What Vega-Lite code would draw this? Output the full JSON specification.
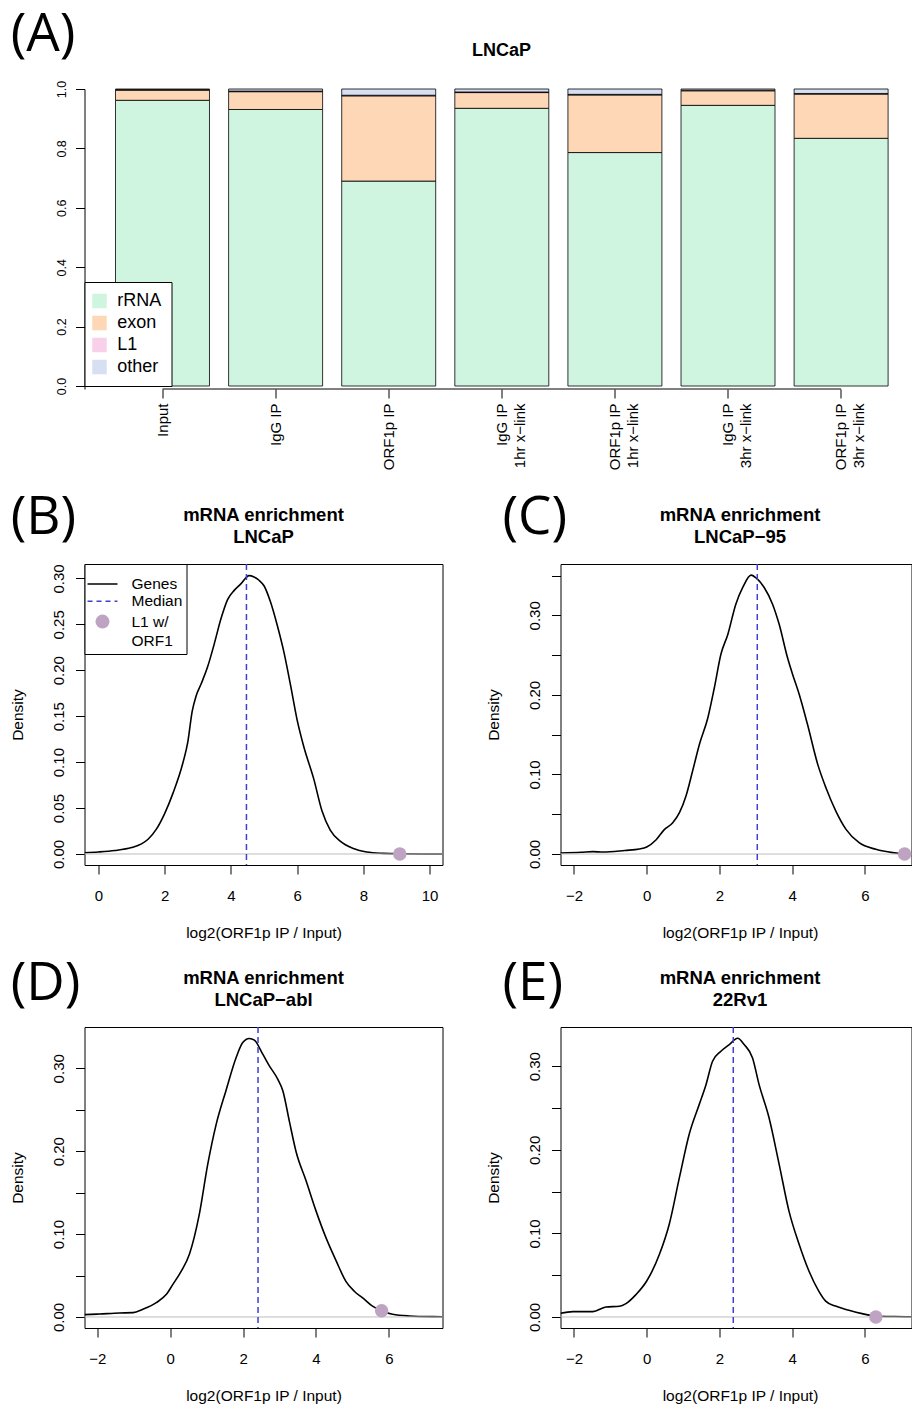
{
  "$schema": "https://vega.github.io/schema/vega-lite/v6.json",
  "background": "white",
  "padding": {"left": 9.5, "top": 9, "right": 0, "bottom": 0},
  "config": {
    "font": "Liberation Sans",
    "view": {"stroke": "black", "strokeWidth": 1},
    "axis": {"labelFont": "Liberation Sans", "titleFont": "Liberation Sans", "labelColor": "black", "titleColor": "black", "tickColor": "black", "domainColor": "black", "grid": false, "tickWidth": 1},
    "legend": {"labelFont": "Liberation Sans", "labelColor": "black", "titleFont": "Liberation Sans"},
    "title": {"font": "Liberation Sans", "color": "black"}
  },
  "datasets": {
    "bars": [
      {"c": "Input", "t": "rRNA", "k": 1, "v": 0.962}, {"c": "Input", "t": "exon", "k": 2, "v": 0.034}, {"c": "Input", "t": "L1", "k": 3, "v": 0.002}, {"c": "Input", "t": "other", "k": 4, "v": 0.002},
      {"c": "IgG IP", "t": "rRNA", "k": 1, "v": 0.931}, {"c": "IgG IP", "t": "exon", "k": 2, "v": 0.060}, {"c": "IgG IP", "t": "L1", "k": 3, "v": 0.002}, {"c": "IgG IP", "t": "other", "k": 4, "v": 0.007},
      {"c": "ORF1p IP", "t": "rRNA", "k": 1, "v": 0.690}, {"c": "ORF1p IP", "t": "exon", "k": 2, "v": 0.287}, {"c": "ORF1p IP", "t": "L1", "k": 3, "v": 0.002}, {"c": "ORF1p IP", "t": "other", "k": 4, "v": 0.021},
      {"c": "IgG IP|1hr x−link", "t": "rRNA", "k": 1, "v": 0.935}, {"c": "IgG IP|1hr x−link", "t": "exon", "k": 2, "v": 0.053}, {"c": "IgG IP|1hr x−link", "t": "L1", "k": 3, "v": 0.002}, {"c": "IgG IP|1hr x−link", "t": "other", "k": 4, "v": 0.010},
      {"c": "ORF1p IP|1hr x−link", "t": "rRNA", "k": 1, "v": 0.786}, {"c": "ORF1p IP|1hr x−link", "t": "exon", "k": 2, "v": 0.194}, {"c": "ORF1p IP|1hr x−link", "t": "L1", "k": 3, "v": 0.002}, {"c": "ORF1p IP|1hr x−link", "t": "other", "k": 4, "v": 0.018},
      {"c": "IgG IP|3hr x−link", "t": "rRNA", "k": 1, "v": 0.945}, {"c": "IgG IP|3hr x−link", "t": "exon", "k": 2, "v": 0.049}, {"c": "IgG IP|3hr x−link", "t": "L1", "k": 3, "v": 0.002}, {"c": "IgG IP|3hr x−link", "t": "other", "k": 4, "v": 0.004},
      {"c": "ORF1p IP|3hr x−link", "t": "rRNA", "k": 1, "v": 0.834}, {"c": "ORF1p IP|3hr x−link", "t": "exon", "k": 2, "v": 0.149}, {"c": "ORF1p IP|3hr x−link", "t": "L1", "k": 3, "v": 0.002}, {"c": "ORF1p IP|3hr x−link", "t": "other", "k": 4, "v": 0.015}
    ],
    "cB": [
      {"x": -0.42, "y": 0.0014}, {"x": 0, "y": 0.0022}, {"x": 0.5, "y": 0.0038}, {"x": 1.0, "y": 0.007}, {"x": 1.3, "y": 0.011}, {"x": 1.5, "y": 0.016}, {"x": 1.75, "y": 0.027}, {"x": 2.0, "y": 0.044}, {"x": 2.25, "y": 0.066}, {"x": 2.55, "y": 0.099}, {"x": 2.7, "y": 0.122}, {"x": 2.83, "y": 0.155}, {"x": 2.95, "y": 0.172}, {"x": 3.1, "y": 0.185}, {"x": 3.3, "y": 0.204}, {"x": 3.5, "y": 0.229}, {"x": 3.7, "y": 0.256}, {"x": 3.9, "y": 0.277}, {"x": 4.1, "y": 0.287}, {"x": 4.3, "y": 0.294}, {"x": 4.55, "y": 0.303}, {"x": 4.7, "y": 0.3015}, {"x": 4.85, "y": 0.298}, {"x": 5.0, "y": 0.292}, {"x": 5.2, "y": 0.274}, {"x": 5.4, "y": 0.249}, {"x": 5.6, "y": 0.220}, {"x": 5.8, "y": 0.184}, {"x": 6.0, "y": 0.146}, {"x": 6.2, "y": 0.117}, {"x": 6.5, "y": 0.082}, {"x": 6.75, "y": 0.047}, {"x": 7.0, "y": 0.026}, {"x": 7.3, "y": 0.014}, {"x": 7.7, "y": 0.006}, {"x": 8.1, "y": 0.0022}, {"x": 8.6, "y": 0.0007}, {"x": 9.1, "y": 0.0002}, {"x": 10.39, "y": 0}
    ],
    "cC": [
      {"x": -2.37, "y": 0.0013}, {"x": -1.8, "y": 0.0022}, {"x": -1.48, "y": 0.003}, {"x": -1.2, "y": 0.0025}, {"x": -0.6, "y": 0.0045}, {"x": -0.2, "y": 0.0063}, {"x": 0, "y": 0.0088}, {"x": 0.26, "y": 0.018}, {"x": 0.49, "y": 0.031}, {"x": 0.71, "y": 0.039}, {"x": 0.9, "y": 0.052}, {"x": 1.08, "y": 0.073}, {"x": 1.26, "y": 0.104}, {"x": 1.45, "y": 0.138}, {"x": 1.68, "y": 0.171}, {"x": 1.86, "y": 0.209}, {"x": 2.04, "y": 0.251}, {"x": 2.23, "y": 0.276}, {"x": 2.45, "y": 0.314}, {"x": 2.64, "y": 0.335}, {"x": 2.87, "y": 0.3505}, {"x": 3.03, "y": 0.346}, {"x": 3.23, "y": 0.335}, {"x": 3.46, "y": 0.314}, {"x": 3.64, "y": 0.289}, {"x": 3.87, "y": 0.247}, {"x": 4.01, "y": 0.226}, {"x": 4.19, "y": 0.201}, {"x": 4.42, "y": 0.163}, {"x": 4.7, "y": 0.113}, {"x": 4.93, "y": 0.083}, {"x": 5.2, "y": 0.054}, {"x": 5.48, "y": 0.031}, {"x": 5.84, "y": 0.0142}, {"x": 6.3, "y": 0.0059}, {"x": 6.76, "y": 0.0017}, {"x": 7.08, "y": 0.0003}, {"x": 7.28, "y": 0}
    ],
    "cD": [
      {"x": -2.35, "y": 0.0028}, {"x": -1.94, "y": 0.0036}, {"x": -1.39, "y": 0.0048}, {"x": -1.02, "y": 0.0052}, {"x": -0.75, "y": 0.0092}, {"x": -0.38, "y": 0.0173}, {"x": -0.11, "y": 0.027}, {"x": 0.07, "y": 0.039}, {"x": 0.3, "y": 0.055}, {"x": 0.53, "y": 0.076}, {"x": 0.8, "y": 0.124}, {"x": 1.03, "y": 0.184}, {"x": 1.26, "y": 0.232}, {"x": 1.53, "y": 0.273}, {"x": 1.81, "y": 0.313}, {"x": 1.99, "y": 0.331}, {"x": 2.17, "y": 0.336}, {"x": 2.31, "y": 0.334}, {"x": 2.54, "y": 0.317}, {"x": 2.72, "y": 0.303}, {"x": 2.95, "y": 0.287}, {"x": 3.09, "y": 0.273}, {"x": 3.27, "y": 0.236}, {"x": 3.45, "y": 0.2}, {"x": 3.73, "y": 0.164}, {"x": 4.0, "y": 0.128}, {"x": 4.27, "y": 0.096}, {"x": 4.55, "y": 0.068}, {"x": 4.82, "y": 0.043}, {"x": 5.05, "y": 0.031}, {"x": 5.28, "y": 0.023}, {"x": 5.55, "y": 0.013}, {"x": 5.8, "y": 0.0076}, {"x": 6.1, "y": 0.0032}, {"x": 6.56, "y": 0.0012}, {"x": 7.2, "y": 0.0004}, {"x": 7.47, "y": 0.0003}
    ],
    "cE": [
      {"x": -2.37, "y": 0.0044}, {"x": -2.03, "y": 0.0064}, {"x": -1.48, "y": 0.0064}, {"x": -1.12, "y": 0.012}, {"x": -0.75, "y": 0.0128}, {"x": -0.57, "y": 0.016}, {"x": -0.29, "y": 0.027}, {"x": 0, "y": 0.043}, {"x": 0.35, "y": 0.075}, {"x": 0.62, "y": 0.111}, {"x": 0.9, "y": 0.167}, {"x": 1.17, "y": 0.219}, {"x": 1.45, "y": 0.255}, {"x": 1.63, "y": 0.278}, {"x": 1.81, "y": 0.306}, {"x": 2.04, "y": 0.318}, {"x": 2.27, "y": 0.326}, {"x": 2.5, "y": 0.3335}, {"x": 2.68, "y": 0.326}, {"x": 2.91, "y": 0.31}, {"x": 3.09, "y": 0.278}, {"x": 3.36, "y": 0.239}, {"x": 3.64, "y": 0.183}, {"x": 3.91, "y": 0.127}, {"x": 4.19, "y": 0.087}, {"x": 4.46, "y": 0.055}, {"x": 4.73, "y": 0.031}, {"x": 4.92, "y": 0.019}, {"x": 5.19, "y": 0.013}, {"x": 5.56, "y": 0.008}, {"x": 5.92, "y": 0.004}, {"x": 6.28, "y": 0.0012}, {"x": 6.8, "y": 0.0005}, {"x": 7.28, "y": 0.0003}
    ]
  },
  "bounds": "flush",
  "spacing": 475,
  "resolve": {"scale": {"color": "independent"}},
  "vconcat": [
    {
      "title": {"text": "(A)", "anchor": "start", "frame": "group", "font": "Open Sans", "fontSize": 53, "fontWeight": "normal", "baseline": "bottom", "offset": 0, "dx": -73.8, "dy": 73.2},
      "bounds": "flush",
      "resolve": {"scale": {"color": "independent"}},
      "vconcat": [
        {
          "width": 827, "height": 300,
          "view": {"stroke": null},
          "title": {"text": "LNCaP", "fontSize": 18, "fontWeight": "bold", "baseline": "bottom", "offset": 2.3, "dx": 3.5},
          "layer": [
            {
              "data": {"name": "bars"},
              "mark": {"type": "bar", "stroke": "black", "strokeWidth": 0.8},
              "encoding": {
                "x": {"field": "c", "type": "nominal", "sort": null,
                  "scale": {"domain": ["Input", "IgG IP", "ORF1p IP", "IgG IP|1hr x−link", "ORF1p IP|1hr x−link", "IgG IP|3hr x−link", "ORF1p IP|3hr x−link"], "paddingInner": 0.169, "paddingOuter": 0.2405, "align": 0.57},
                  "axis": {"title": null, "domain": false, "tickSize": 9, "labelAngle": 270, "labelAlign": "right", "labelBaseline": "middle", "labelPadding": 5, "labelFontSize": 15, "labelLineHeight": 18, "labelExpr": "split(datum.label, '|')"}},
                "y": {"field": "v", "type": "quantitative", "stack": "zero",
                  "scale": {"domain": [-0.0101, 1.0], "nice": false, "zero": false},
                  "axis": {"title": null, "domain": true, "values": [0, 0.2, 0.4, 0.6, 0.8, 1.0], "format": ".1f", "tickSize": 9, "labelAngle": 270, "labelAlign": "center", "labelBaseline": "alphabetic", "labelPadding": 10, "labelFontSize": 12.5}},
                "color": {"field": "t", "type": "nominal",
                  "scale": {"domain": ["rRNA", "exon", "L1", "other"], "range": ["#CFF5E1", "#FED7B6", "#F9D0EA", "#D7DFF2"]},
                  "legend": {"title": null, "orient": "none", "legendX": 0, "legendY": 193, "strokeColor": "black", "fillColor": "white", "padding": 10, "symbolType": "square", "symbolSize": 210, "symbolStrokeWidth": 0, "symbolOffset": -4, "labelFontSize": 18, "labelOffset": 8.7, "rowPadding": 4}},
                "order": {"field": "k", "type": "quantitative"}
              }
            },
            {
              "data": {"values": [{"c": "Input", "c2": "ORF1p IP|3hr x−link", "v": -0.0101}]},
              "mark": {"type": "rule", "color": "black", "strokeWidth": 1},
              "encoding": {
                "x": {"field": "c", "type": "nominal"},
                "x2": {"field": "c2"},
                "y": {"field": "v", "type": "quantitative"}
              }
            }
          ]
        }
      ]
    },
    {
      "bounds": "flush",
      "spacing": 463,
      "resolve": {"scale": {"color": "independent"}},
      "vconcat": [
        {
          "bounds": "flush",
          "spacing": 476,
          "resolve": {"scale": {"color": "independent", "fill": "independent", "stroke": "independent", "shape": "independent", "strokeDash": "independent"}},
          "hconcat": [
            {
              "title": {"text": "(B)", "anchor": "start", "frame": "group", "font": "Open Sans", "fontSize": 53, "fontWeight": "normal", "baseline": "bottom", "offset": 0, "dx": -73.8, "dy": 91.8},
              "bounds": "flush",
              "resolve": {"scale": {"color": "independent", "fill": "independent", "stroke": "independent", "shape": "independent", "strokeDash": "independent"}},
              "vconcat": [
                {
                  "width": 358, "height": 301,
                  "title": {"text": ["mRNA enrichment", "LNCaP"], "fontSize": 18.5, "fontWeight": "bold", "lineHeight": 21.6, "baseline": "bottom", "offset": -2.3},
                  "layer": [
                    {
                      "data": {"name": "cB"},
                      "mark": {"type": "line", "color": "black", "strokeWidth": 1.6, "interpolate": "monotone", "clip": true},
                      "encoding": {
                        "x": {"field": "x", "type": "quantitative", "scale": {"domain": [-0.42, 10.39], "nice": false, "zero": false},
                          "axis": {"title": "log2(ORF1p IP / Input)", "values": [0, 2, 4, 6, 8, 10], "format": "d", "domain": false, "tickSize": 9, "labelFontSize": 15, "labelBaseline": "alphabetic", "labelPadding": 26, "labelFlush": false, "labelOverlap": false, "titleFontSize": 15.5, "titleFontWeight": "normal", "titleBaseline": "alphabetic", "titleY": 72}},
                        "y": {"field": "y", "type": "quantitative", "scale": {"domain": [-0.012, 0.3157], "nice": false, "zero": false},
                          "axis": {"title": "Density", "values": [0, 0.05, 0.1, 0.15, 0.2, 0.25, 0.3], "format": ".2f", "domain": false, "tickSize": 9, "labelFontSize": 15, "labelAngle": 270, "labelAlign": "center", "labelBaseline": "alphabetic", "labelPadding": 12, "labelOverlap": false, "labelFlush": false, "titleFontSize": 15.5, "titleFontWeight": "normal", "titleAngle": 270, "titleAlign": "center", "titleBaseline": "alphabetic", "titleX": -62.5}}
                      }
                    },
                    {
                      "data": {"values": [{"y": 0}]},
                      "mark": {"type": "rule", "color": "#BEBEBE", "strokeWidth": 1},
                      "encoding": {"y": {"field": "y", "type": "quantitative", "scale": {"domain": [-0.012, 0.3157], "nice": false, "zero": false}}}
                    },
                    {
                      "data": {"values": [{"x": 4.47}]},
                      "mark": {"type": "rule", "color": "#3F3FD0", "strokeWidth": 1.5, "strokeDash": [6, 4]},
                      "encoding": {"x": {"field": "x", "type": "quantitative", "scale": {"domain": [-0.42, 10.39], "nice": false, "zero": false}}}
                    },
                    {
                      "data": {"values": [{"x": 9.1, "y": 0, "s": "L1 w/"}]},
                      "mark": {"type": "point", "size": 182, "opacity": 1, "strokeWidth": 1.6},
                      "encoding": {
                        "x": {"field": "x", "type": "quantitative", "scale": {"domain": [-0.42, 10.39], "nice": false, "zero": false}},
                        "y": {"field": "y", "type": "quantitative", "scale": {"domain": [-0.012, 0.3157], "nice": false, "zero": false}},
                        "fill": {"field": "s", "type": "nominal",
                          "scale": {"domain": ["Genes", "Median", "L1 w/", "ORF1"], "range": ["transparent", "transparent", "#BFA3C3", "transparent"]},
                          "legend": {"title": " ", "titleFontSize": 6, "titlePadding": 2, "orient": "none", "legendX": 0, "legendY": 0, "strokeColor": "black", "fillColor": "white", "padding": 4, "symbolSize": 196, "symbolStrokeWidth": 1.6, "symbolOffset": 6, "labelOffset": 21, "labelFontSize": 15.5, "rowPadding": 0.3}},
                        "stroke": {"field": "s", "type": "nominal",
                          "scale": {"domain": ["Genes", "Median", "L1 w/", "ORF1"], "range": ["#000000", "#3F3FD0", "transparent", "transparent"]},
                          "legend": {"title": " ", "titleFontSize": 6, "titlePadding": 2, "orient": "none", "legendX": 0, "legendY": 0, "strokeColor": "black", "fillColor": "white", "padding": 4, "symbolSize": 196, "symbolStrokeWidth": 1.6, "symbolOffset": 6, "labelOffset": 21, "labelFontSize": 15.5, "rowPadding": 0.3}},
                        "shape": {"field": "s", "type": "nominal",
                          "scale": {"domain": ["Genes", "Median", "L1 w/", "ORF1"], "range": ["M-2.14,0H2.14", "M-2.14,0H2.14", "circle", "M-2.14,0H2.14"]},
                          "legend": {"title": " ", "titleFontSize": 6, "titlePadding": 2, "orient": "none", "legendX": 0, "legendY": 0, "strokeColor": "black", "fillColor": "white", "padding": 4, "symbolSize": 196, "symbolStrokeWidth": 1.6, "symbolOffset": 6, "labelOffset": 21, "labelFontSize": 15.5, "rowPadding": 0.3}},
                        "strokeDash": {"field": "s", "type": "nominal",
                          "scale": {"domain": ["Genes", "Median", "L1 w/", "ORF1"], "range": [[1, 0], [5, 4], [1, 0], [1, 0]]},
                          "legend": {"title": " ", "titleFontSize": 6, "titlePadding": 2, "orient": "none", "legendX": 0, "legendY": 0, "strokeColor": "black", "fillColor": "white", "padding": 4, "symbolSize": 196, "symbolStrokeWidth": 1.6, "symbolOffset": 6, "labelOffset": 21, "labelFontSize": 15.5, "rowPadding": 0.3}}
                      }
                    }
                  ]
                }
              ]
            },
            {
              "title": {"text": "(C)", "anchor": "start", "frame": "group", "font": "Open Sans", "fontSize": 53, "fontWeight": "normal", "baseline": "bottom", "offset": 0, "dx": -58.1, "dy": 91.8},
              "bounds": "flush",
              "resolve": {"scale": {"color": "independent"}},
              "vconcat": [
                {
                  "width": 351, "height": 301,
                  "title": {"text": ["mRNA enrichment", "LNCaP−95"], "fontSize": 18.5, "fontWeight": "bold", "lineHeight": 21.6, "baseline": "bottom", "offset": -2.3, "dx": 4},
                  "layer": [
                    {
                      "data": {"name": "cC"},
                      "mark": {"type": "line", "color": "black", "strokeWidth": 1.6, "interpolate": "monotone", "clip": true},
                      "encoding": {
                        "x": {"field": "x", "type": "quantitative", "scale": {"domain": [-2.37, 7.28], "nice": false, "zero": false},
                          "axis": {"title": "log2(ORF1p IP / Input)", "values": [-2, 0, 2, 4, 6], "format": "d", "domain": false, "tickSize": 9, "labelFontSize": 15, "labelBaseline": "alphabetic", "labelPadding": 26, "labelFlush": false, "labelOverlap": false, "titleFontSize": 15.5, "titleFontWeight": "normal", "titleBaseline": "alphabetic", "titleY": 72, "titleX": 179.5, "titleAlign": "center"}},
                        "y": {"field": "y", "type": "quantitative", "scale": {"domain": [-0.0138, 0.3645], "nice": false, "zero": false},
                          "axis": {"title": "Density", "values": [0, 0.05, 0.1, 0.15, 0.2, 0.25, 0.3, 0.35], "format": ".2f", "labelExpr": "round(datum.value * 100) % 10 == 0 ? datum.label : ''", "domain": false, "tickSize": 9, "labelFontSize": 15, "labelAngle": 270, "labelAlign": "center", "labelBaseline": "alphabetic", "labelPadding": 12, "labelOverlap": false, "labelFlush": false, "titleFontSize": 15.5, "titleFontWeight": "normal", "titleAngle": 270, "titleAlign": "center", "titleBaseline": "alphabetic", "titleX": -62.5}}
                      }
                    },
                    {
                      "data": {"values": [{"y": 0}]},
                      "mark": {"type": "rule", "color": "#BEBEBE", "strokeWidth": 1},
                      "encoding": {"y": {"field": "y", "type": "quantitative", "scale": {"domain": [-0.0138, 0.3645], "nice": false, "zero": false}}}
                    },
                    {
                      "data": {"values": [{"x": 3.04}]},
                      "mark": {"type": "rule", "color": "#3F3FD0", "strokeWidth": 1.5, "strokeDash": [6, 4]},
                      "encoding": {"x": {"field": "x", "type": "quantitative", "scale": {"domain": [-2.37, 7.28], "nice": false, "zero": false}}}
                    },
                    {
                      "data": {"values": [{"x": 7.09, "y": 0, "s": "L1 w/"}]},
                      "mark": {"type": "point", "filled": true, "size": 182, "opacity": 1},
                      "encoding": {
                        "x": {"field": "x", "type": "quantitative", "scale": {"domain": [-2.37, 7.28], "nice": false, "zero": false}},
                        "y": {"field": "y", "type": "quantitative", "scale": {"domain": [-0.0138, 0.3645], "nice": false, "zero": false}},
                        "color": {"field": "s", "type": "nominal", "scale": {"domain": ["L1 w/"], "range": ["#BFA3C3"]}, "legend": null}
                      }
                    }
                  ]
                }
              ]
            }
          ]
        },
        {
          "bounds": "flush",
          "spacing": 476,
          "resolve": {"scale": {"color": "independent"}},
          "hconcat": [
            {
              "title": {"text": "(D)", "anchor": "start", "frame": "group", "font": "Open Sans", "fontSize": 53, "fontWeight": "normal", "baseline": "bottom", "offset": 0, "dx": -73.8, "dy": 95.5},
              "bounds": "flush",
              "resolve": {"scale": {"color": "independent"}},
              "vconcat": [
                {
                  "width": 358, "height": 301,
                  "title": {"text": ["mRNA enrichment", "LNCaP−abl"], "fontSize": 18.5, "fontWeight": "bold", "lineHeight": 21.6, "baseline": "bottom", "offset": -2.3},
                  "layer": [
                    {
                      "data": {"name": "cD"},
                      "mark": {"type": "line", "color": "black", "strokeWidth": 1.6, "interpolate": "monotone", "clip": true},
                      "encoding": {
                        "x": {"field": "x", "type": "quantitative", "scale": {"domain": [-2.35, 7.47], "nice": false, "zero": false},
                          "axis": {"title": "log2(ORF1p IP / Input)", "values": [-2, 0, 2, 4, 6], "format": "d", "domain": false, "tickSize": 9, "labelFontSize": 15, "labelBaseline": "alphabetic", "labelPadding": 26, "labelFlush": false, "labelOverlap": false, "titleFontSize": 15.5, "titleFontWeight": "normal", "titleBaseline": "alphabetic", "titleY": 72}},
                        "y": {"field": "y", "type": "quantitative", "scale": {"domain": [-0.0133, 0.3498], "nice": false, "zero": false},
                          "axis": {"title": "Density", "values": [0, 0.05, 0.1, 0.15, 0.2, 0.25, 0.3], "format": ".2f", "labelExpr": "round(datum.value * 100) % 10 == 0 ? datum.label : ''", "domain": false, "tickSize": 9, "labelFontSize": 15, "labelAngle": 270, "labelAlign": "center", "labelBaseline": "alphabetic", "labelPadding": 12, "labelOverlap": false, "labelFlush": false, "titleFontSize": 15.5, "titleFontWeight": "normal", "titleAngle": 270, "titleAlign": "center", "titleBaseline": "alphabetic", "titleX": -62.5}}
                      }
                    },
                    {
                      "data": {"values": [{"y": 0}]},
                      "mark": {"type": "rule", "color": "#BEBEBE", "strokeWidth": 1},
                      "encoding": {"y": {"field": "y", "type": "quantitative", "scale": {"domain": [-0.0133, 0.3498], "nice": false, "zero": false}}}
                    },
                    {
                      "data": {"values": [{"x": 2.41}]},
                      "mark": {"type": "rule", "color": "#3F3FD0", "strokeWidth": 1.5, "strokeDash": [6, 4]},
                      "encoding": {"x": {"field": "x", "type": "quantitative", "scale": {"domain": [-2.35, 7.47], "nice": false, "zero": false}}}
                    },
                    {
                      "data": {"values": [{"x": 5.8, "y": 0.0076, "s": "L1 w/"}]},
                      "mark": {"type": "point", "filled": true, "size": 182, "opacity": 1},
                      "encoding": {
                        "x": {"field": "x", "type": "quantitative", "scale": {"domain": [-2.35, 7.47], "nice": false, "zero": false}},
                        "y": {"field": "y", "type": "quantitative", "scale": {"domain": [-0.0133, 0.3498], "nice": false, "zero": false}},
                        "color": {"field": "s", "type": "nominal", "scale": {"domain": ["L1 w/"], "range": ["#BFA3C3"]}, "legend": null}
                      }
                    }
                  ]
                }
              ]
            },
            {
              "title": {"text": "(E)", "anchor": "start", "frame": "group", "font": "Open Sans", "fontSize": 53, "fontWeight": "normal", "baseline": "bottom", "offset": 0, "dx": -58.1, "dy": 95.5},
              "bounds": "flush",
              "resolve": {"scale": {"color": "independent"}},
              "vconcat": [
                {
                  "width": 351, "height": 301,
                  "title": {"text": ["mRNA enrichment", "22Rv1"], "fontSize": 18.5, "fontWeight": "bold", "lineHeight": 21.6, "baseline": "bottom", "offset": -2.3, "dx": 4},
                  "layer": [
                    {
                      "data": {"name": "cE"},
                      "mark": {"type": "line", "color": "black", "strokeWidth": 1.6, "interpolate": "monotone", "clip": true},
                      "encoding": {
                        "x": {"field": "x", "type": "quantitative", "scale": {"domain": [-2.37, 7.28], "nice": false, "zero": false},
                          "axis": {"title": "log2(ORF1p IP / Input)", "values": [-2, 0, 2, 4, 6], "format": "d", "domain": false, "tickSize": 9, "labelFontSize": 15, "labelBaseline": "alphabetic", "labelPadding": 26, "labelFlush": false, "labelOverlap": false, "titleFontSize": 15.5, "titleFontWeight": "normal", "titleBaseline": "alphabetic", "titleY": 72, "titleX": 179.5, "titleAlign": "center"}},
                        "y": {"field": "y", "type": "quantitative", "scale": {"domain": [-0.0132, 0.347], "nice": false, "zero": false},
                          "axis": {"title": "Density", "values": [0, 0.05, 0.1, 0.15, 0.2, 0.25, 0.3], "format": ".2f", "labelExpr": "round(datum.value * 100) % 10 == 0 ? datum.label : ''", "domain": false, "tickSize": 9, "labelFontSize": 15, "labelAngle": 270, "labelAlign": "center", "labelBaseline": "alphabetic", "labelPadding": 12, "labelOverlap": false, "labelFlush": false, "titleFontSize": 15.5, "titleFontWeight": "normal", "titleAngle": 270, "titleAlign": "center", "titleBaseline": "alphabetic", "titleX": -62.5}}
                      }
                    },
                    {
                      "data": {"values": [{"y": 0}]},
                      "mark": {"type": "rule", "color": "#BEBEBE", "strokeWidth": 1},
                      "encoding": {"y": {"field": "y", "type": "quantitative", "scale": {"domain": [-0.0132, 0.347], "nice": false, "zero": false}}}
                    },
                    {
                      "data": {"values": [{"x": 2.38}]},
                      "mark": {"type": "rule", "color": "#3F3FD0", "strokeWidth": 1.5, "strokeDash": [6, 4]},
                      "encoding": {"x": {"field": "x", "type": "quantitative", "scale": {"domain": [-2.37, 7.28], "nice": false, "zero": false}}}
                    },
                    {
                      "data": {"values": [{"x": 6.3, "y": 0, "s": "L1 w/"}]},
                      "mark": {"type": "point", "filled": true, "size": 182, "opacity": 1},
                      "encoding": {
                        "x": {"field": "x", "type": "quantitative", "scale": {"domain": [-2.37, 7.28], "nice": false, "zero": false}},
                        "y": {"field": "y", "type": "quantitative", "scale": {"domain": [-0.0132, 0.347], "nice": false, "zero": false}},
                        "color": {"field": "s", "type": "nominal", "scale": {"domain": ["L1 w/"], "range": ["#BFA3C3"]}, "legend": null}
                      }
                    }
                  ]
                }
              ]
            }
          ]
        }
      ]
    }
  ]
}
